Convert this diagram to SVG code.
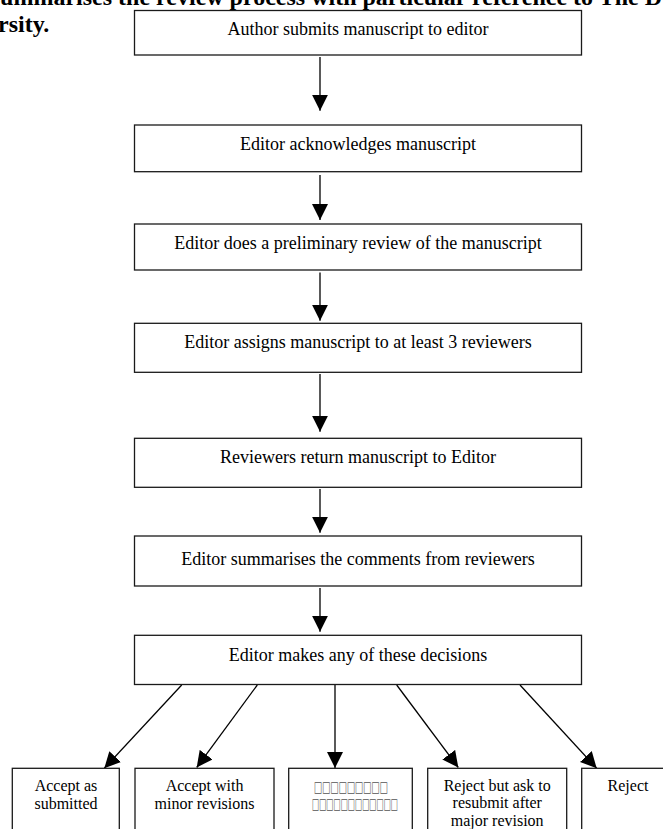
<svg xmlns="http://www.w3.org/2000/svg" width="663" height="829" viewBox="0 0 663 829">
<defs>
<style>
.box{fill:#fff;stroke:#1a1a1a;stroke-width:1.3}
.t{font-family:"Liberation Serif","Times New Roman",serif;font-size:18px;fill:#000;text-anchor:middle}
.s{font-family:"Liberation Serif","Times New Roman",serif;font-size:16px;fill:#000;text-anchor:middle}
.h{font-family:"Liberation Serif","Times New Roman",serif;font-size:24px;font-weight:bold;fill:#000}
.tofu{font-family:"DejaVu Sans",sans-serif;font-size:15px;fill:#555}
.c{stroke:#000;stroke-width:1.3;fill:none;marker-end:url(#ah)}
</style>
<marker id="ah" markerUnits="userSpaceOnUse" markerWidth="16" markerHeight="16" refX="15" refY="7.5" orient="auto" viewBox="0 0 15 15">
<path d="M0,0 L15,7.5 L0,15 z" fill="#000"/>
</marker>
</defs>
<rect width="663" height="829" fill="#fff"/>
<text class="h" x="662" y="4.5" text-anchor="end">summarises the review process with particular reference to The D</text>
<text class="h" x="-2" y="31.5">rsity.</text>
<g id="connectors">
<line class="c" x1="320" y1="57" x2="320" y2="110.7"/>
<line class="c" x1="320" y1="175" x2="320" y2="220"/>
<line class="c" x1="320" y1="272.5" x2="320" y2="320.7"/>
<line class="c" x1="320" y1="374" x2="320" y2="431.7"/>
<line class="c" x1="320" y1="489" x2="320" y2="532.7"/>
<line class="c" x1="320" y1="588" x2="320" y2="631.7"/>
<line class="c" x1="181.7" y1="685" x2="104.3" y2="768.3"/>
<line class="c" x1="257.3" y1="685" x2="196.7" y2="767.5"/>
<line class="c" x1="335" y1="685" x2="335" y2="768"/>
<line class="c" x1="396.7" y1="685" x2="458.3" y2="767.5"/>
<line class="c" x1="520" y1="685" x2="596.7" y2="768.3"/>
</g>
<g id="n1"><rect class="box" x="134.5" y="10.5" width="447" height="44.5"/><text class="t" x="358" y="35">Author submits manuscript to editor</text></g>
<g id="n2"><rect class="box" x="134.5" y="125" width="447" height="46.7"/><text class="t" x="358" y="150">Editor acknowledges manuscript</text></g>
<g id="n3"><rect class="box" x="134.5" y="224" width="447" height="46"/><text class="t" x="358" y="248.5">Editor does a preliminary review of the manuscript</text></g>
<g id="n4"><rect class="box" x="134.5" y="323.3" width="447" height="49"/><text class="t" x="358" y="348">Editor assigns manuscript to at least 3 reviewers</text></g>
<g id="n5"><rect class="box" x="134.5" y="438.3" width="447" height="49"/><text class="t" x="358" y="463.3">Reviewers return manuscript to Editor</text></g>
<g id="n6"><rect class="box" x="134.5" y="536" width="447" height="50"/><text class="t" x="358" y="565">Editor summarises the comments from reviewers</text></g>
<g id="n7"><rect class="box" x="134.5" y="635.3" width="447" height="49.2"/><text class="t" x="358" y="660.7">Editor makes any of these decisions</text></g>
<g id="d1"><rect class="box" x="12.3" y="768.3" width="107" height="80"/><text class="s" x="66" y="791"><tspan x="66">Accept as</tspan><tspan x="66" y="808.7">submitted</tspan></text></g>
<g id="d2"><rect class="box" x="135" y="768.3" width="139" height="80"/><text class="s" x="204.5" y="791"><tspan x="204.5">Accept with</tspan><tspan x="204.5" y="808.7">minor revisions</tspan></text></g>
<g id="d3"><rect class="box" x="288.7" y="768.3" width="123.6" height="80"/><text class="tofu" x="314" y="792" textLength="74" lengthAdjust="spacingAndGlyphs">□□□□□□□□□</text><text class="tofu" x="312" y="809" textLength="86" lengthAdjust="spacingAndGlyphs">□□□□□□□□□□□□</text></g>
<g id="d4"><rect class="box" x="427.7" y="768.3" width="139" height="80"/><text class="s" x="497.2" y="790.5"><tspan x="497.2">Reject but ask to</tspan><tspan x="497.2" y="808">resubmit after</tspan><tspan x="497.2" y="825.5">major revision</tspan></text></g>
<g id="d5"><rect class="box" x="581.7" y="768.3" width="92" height="80"/><text class="s" x="628" y="791">Reject</text></g>
</svg>
